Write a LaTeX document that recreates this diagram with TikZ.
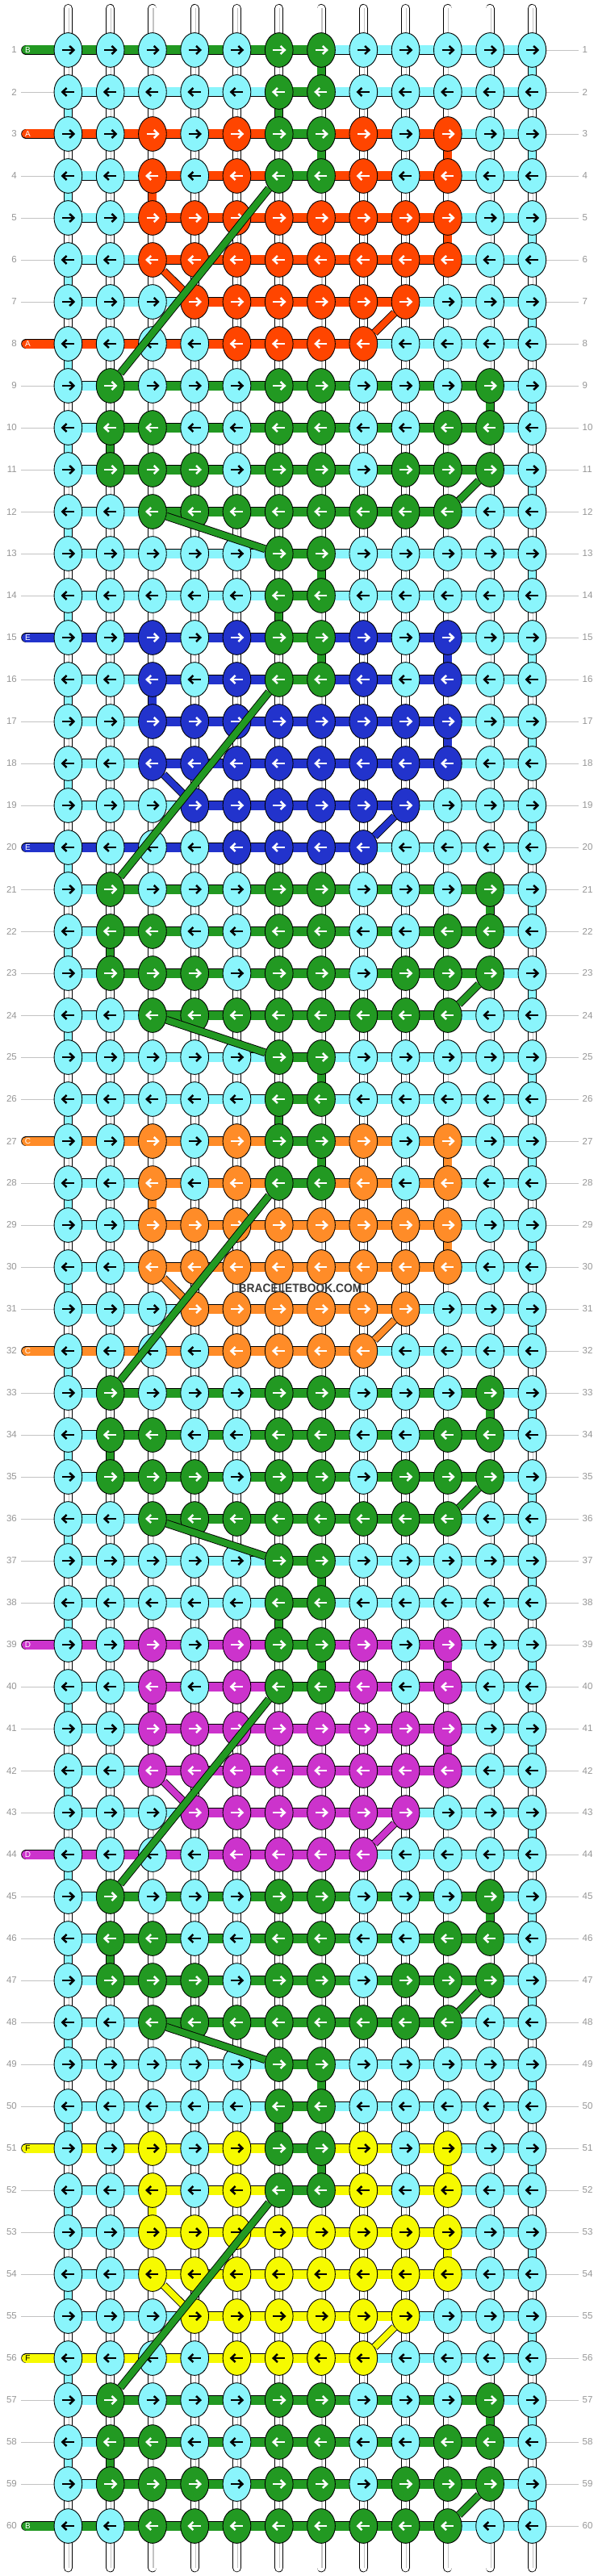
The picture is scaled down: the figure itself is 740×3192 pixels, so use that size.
\documentclass[tikz,border=0pt]{standalone}
\usepackage{fontspec}
\setmainfont{Liberation Sans}
\usetikzlibrary{shapes.geometric}
\pgfdeclarelayer{bg}
\pgfsetlayers{bg,main}
\definecolor{cy}{RGB}{138,245,252}
\definecolor{gr}{RGB}{34,153,34}
\definecolor{cA}{RGB}{255,69,0}
\definecolor{cE}{RGB}{34,51,204}
\definecolor{cC}{RGB}{255,140,40}
\definecolor{cD}{RGB}{204,51,204}
\definecolor{cF}{RGB}{246,250,0}
\definecolor{lbl}{RGB}{150,150,150}
\definecolor{lgl}{RGB}{195,195,195}
\definecolor{wmk}{RGB}{60,60,60}
\colorlet{X}{cA}
\def\pat{{0,0,0,0,0,1,1,0,0,0,0,0,%
0,0,0,0,0,1,1,0,0,0,0,0,%
0,0,2,0,2,1,1,2,0,2,0,0,%
0,0,2,0,2,1,1,2,0,2,0,0,%
0,0,2,2,2,2,2,2,2,2,0,0,%
0,0,2,2,2,2,2,2,2,2,0,0,%
0,0,0,2,2,2,2,2,2,0,0,0,%
0,0,0,0,2,2,2,2,0,0,0,0,%
0,1,0,0,0,1,1,0,0,0,1,0,%
0,1,1,0,0,1,1,0,0,1,1,0,%
0,1,1,1,0,1,1,0,1,1,1,0,%
0,0,1,1,1,1,1,1,1,1,0,0}}
\def\seg{{0,0,0,0,0,1,0,0,0,0,0,%
0,0,0,0,0,1,0,0,0,0,0,%
2,2,2,2,2,1,2,2,2,0,0,%
0,0,2,2,2,1,2,2,2,0,0,%
0,0,2,2,2,2,2,2,2,0,0,%
0,0,2,2,2,2,2,2,2,0,0,%
0,0,0,2,2,2,2,2,0,0,0,%
2,2,2,2,2,2,2,0,0,0,0,%
0,1,1,1,1,1,1,1,1,1,0,%
0,1,1,1,1,1,1,1,1,1,0,%
0,1,1,1,1,1,1,1,1,1,0,%
0,0,1,1,1,1,1,1,1,0,0}}
\newcommand\setblock[1]{\ifcase#1\relax
  \colorlet{X}{cA}\def\lt{A}\def\ltc{white}\or
  \colorlet{X}{cE}\def\lt{E}\def\ltc{white}\or
  \colorlet{X}{cC}\def\lt{C}\def\ltc{white}\or
  \colorlet{X}{cD}\def\lt{D}\def\ltc{white}\or
  \colorlet{X}{cF}\def\lt{F}\def\ltc{black}\fi}
\tikzset{
  knot/.style={ellipse, draw=black, line width=0.9pt, minimum width=34.7pt, minimum height=42.7pt, inner sep=0pt},
  rowlbl/.style={text=lbl, font=\fontsize{11.5}{12}\selectfont, inner sep=0pt},
  taillbl/.style={font=\fontsize{10}{10}\selectfont, inner sep=0pt},
  outl/.style={black, line width=12.6pt},
  fillseg/.style={line width=11pt},
  tubeo/.style={black, line width=11pt},
  tubei/.style={white, line width=9.4pt},
  tubef/.style={line width=9.4pt},
  tubec/.style={lgl, line width=1.2pt},
  guide/.style={lgl, line width=0.9pt},
  diago/.style={black, line width=9.8pt},
  diagi/.style={line width=8pt},
  arr/.style={line width=2.5pt, miter limit=10},
}
\begin{document}
\begin{tikzpicture}[x=1pt,y=-1pt]
\begin{pgfonlayer}{bg}
\fill[white] (0,0) rectangle (740,3192);
\end{pgfonlayer}
\useasboundingbox (0,0) rectangle (740,3192);
% knots
\foreach \rw in {1,...,60}{
  \pgfmathtruncatemacro\bk{(\rw-1)/12}
  \pgfmathtruncatemacro\kk{\rw-12*\bk}
  \pgfmathsetmacro\y{62+(\rw-1)*52}
  \setblock{\bk}
  \foreach \col in {1,...,12}{
    \pgfmathsetmacro\x{84.4+(\col-1)*52.27}
    \pgfmathtruncatemacro\idx{(\kk-1)*12+\col-1}
    \pgfmathtruncatemacro\code{\pat[\idx]}
    \ifcase\code\relax\def\kc{cy}\def\ac{black}\or\def\kc{gr}\def\ac{white}\or\def\kc{X}\edef\ac{\ltc}\fi
    \node[knot, fill=\kc] (k-\rw-\col) at (\x,\y) {};
    \ifodd\rw
      \draw[arr, \ac] (\x-7.3,\y) -- (\x+6.5,\y);
      \draw[arr, \ac] (\x+1.8,\y-5) -- (\x+7,\y) -- (\x+1.8,\y+5);
    \else
      \draw[arr, \ac] (\x+7.3,\y) -- (\x-6.5,\y);
      \draw[arr, \ac] (\x-1.8,\y-5) -- (\x-7,\y) -- (\x-1.8,\y+5);
    \fi
  }
}
\begin{pgfonlayer}{bg}
% top and bottom string ends
\foreach \col in {1,...,12}{
  \pgfmathsetmacro\x{84.4+(\col-1)*52.27}
  \coordinate (t-\col) at (\x,10.5);
  \coordinate (b-\col) at (\x,3181.8);
  \draw[tubeo, line cap=round] (t-\col) -- (k-1-\col.center);
  \draw[tubei, line cap=round] (t-\col) -- (k-1-\col.center);
  \draw[tubec] ([xshift=1pt]t-\col) -- ([xshift=1pt]k-1-\col.center);
  \draw[tubeo, line cap=round] (b-\col) -- (k-60-\col.center);
  \draw[tubei, line cap=round] (b-\col) -- (k-60-\col.center);
  \draw[tubec] ([xshift=1pt]b-\col) -- ([xshift=1pt]k-60-\col.center);
}
% rows
\foreach \rw in {1,...,60}{
  \pgfmathtruncatemacro\bk{(\rw-1)/12}
  \pgfmathtruncatemacro\kk{\rw-12*\bk}
  \pgfmathsetmacro\y{62+(\rw-1)*52}
  \setblock{\bk}
  % vertical plain connectors
  \ifnum\rw<60
    \pgfmathtruncatemacro\nr{\rw+1}
    \foreach \col in {1,...,12}{
      \draw[tubeo] (k-\rw-\col.center) -- (k-\nr-\col.center);
      \draw[tubei] (k-\rw-\col.center) -- (k-\nr-\col.center);
      \draw[tubec] ([xshift=1pt]k-\rw-\col.center) -- ([xshift=1pt]k-\nr-\col.center);
    }
  \fi
  % horizontal segments
  \foreach \col in {1,...,11}{
    \pgfmathtruncatemacro\nx{\col+1}
    \pgfmathtruncatemacro\idx{(\kk-1)*11+\col-1}
    \pgfmathtruncatemacro\code{\seg[\idx]}
    \ifnum\rw=1 \ifnum\col<6 \def\code{1}\fi\fi
    \ifnum\rw=60 \ifnum\col<3 \def\code{1}\fi\fi
    \ifcase\code\relax\def\kc{cy}\or\def\kc{gr}\or\def\kc{X}\fi
    \draw[outl] (k-\rw-\col.center) -- (k-\rw-\nx.center);
    \draw[fillseg, \kc] (k-\rw-\col.center) -- (k-\rw-\nx.center);
  }
  % left side
  \def\tail{0}
  \ifnum\kk=3 \def\tail{2}\fi
  \ifnum\kk=8 \def\tail{2}\fi
  \ifnum\rw=1 \def\tail{1}\fi
  \ifnum\rw=60 \def\tail{1}\fi
  \coordinate (lt-\rw) at (32.5,\y);
  \coordinate (lg-\rw) at (26,\y);
  \ifcase\tail\relax
    \draw[guide] (lg-\rw) -- (k-\rw-1);
  \or
    \draw[outl, line cap=round] (lt-\rw) -- (k-\rw-1.center);
    \draw[fillseg, gr, line cap=round] (lt-\rw) -- (k-\rw-1.center);
    \node[taillbl, text=white] (tl-\rw) at (34.5,\y) {B};
  \or
    \draw[outl, line cap=round] (lt-\rw) -- (k-\rw-1.center);
    \draw[fillseg, X, line cap=round] (lt-\rw) -- (k-\rw-1.center);
    \node[taillbl, text=\ltc] (tl-\rw) at (34.5,\y) {\lt};
  \fi
  % right side
  \coordinate (rg-\rw) at (717,\y);
  \draw[guide] (k-\rw-12) -- (rg-\rw);
  \node[rowlbl, anchor=east] (L-\rw) at (21,\y) {\rw};
  \node[rowlbl, anchor=west] (R-\rw) at (721.5,\y) {\rw};
}
% coloured turns between rows
\foreach \bk in {0,...,4}{
  \setblock{\bk}
  \foreach \kk/\col/\code in {1/7/1, 1/12/0, 2/1/0, 2/6/1, 3/7/1, 3/10/2, 3/12/0, 4/1/0, 4/3/2, 5/10/2, 5/12/0, 6/1/0, 7/12/0, 8/1/0, 9/11/1, 9/12/0, 10/1/0, 10/2/1, 11/12/0, 12/1/0}{
    \pgfmathtruncatemacro\rw{12*\bk+\kk}
    \pgfmathtruncatemacro\nr{\rw+1}
    \ifnum\rw<60
      \ifcase\code\relax\def\kc{cy}\or\def\kc{gr}\or\def\kc{X}\fi
      \draw[tubeo] (k-\rw-\col.center) -- (k-\nr-\col.center);
      \draw[tubef, \kc] (k-\rw-\col.center) -- (k-\nr-\col.center);
    \fi
  }
}
\end{pgfonlayer}
% diagonal strands
\foreach \bk in {0,...,4}{
  \setblock{\bk}
  \pgfmathtruncatemacro\ra{12*\bk+4}
  \pgfmathtruncatemacro\rb{12*\bk+9}
  \pgfmathtruncatemacro\rc{12*\bk+6}
  \pgfmathtruncatemacro\rd{12*\bk+7}
  \pgfmathtruncatemacro\re{12*\bk+8}
  \pgfmathtruncatemacro\rf{12*\bk+11}
  \pgfmathtruncatemacro\rg{12*\bk+12}
  \pgfmathtruncatemacro\rh{12*\bk+13}
  \draw[diago] (k-\rc-3) -- (k-\rd-4);
  \draw[diagi, X] (k-\rc-3) -- (k-\rd-4);
  \draw[diago] (k-\rd-9) -- (k-\re-8);
  \draw[diagi, X] (k-\rd-9) -- (k-\re-8);
  \draw[diago] (k-\ra-6) -- (k-\rb-2);
  \draw[diagi, gr] (k-\ra-6) -- (k-\rb-2);
  \draw[diago] (k-\rf-11) -- (k-\rg-10);
  \draw[diagi, gr] (k-\rf-11) -- (k-\rg-10);
  \ifnum\rh<61
    \draw[diago] (k-\rg-3) -- (k-\rh-6);
    \draw[diagi, gr] (k-\rg-3) -- (k-\rh-6);
  \fi
}
\node[text=wmk, inner sep=0pt] (wm) at (372,1596) {\scalebox{0.92}[1]{\fontsize{15}{15}\selectfont\bfseries BRACELETBOOK.COM}};
\end{tikzpicture}
\end{document}
